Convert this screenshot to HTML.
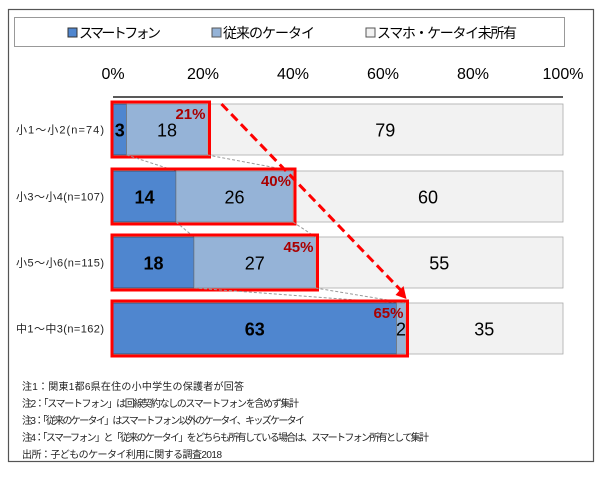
<!DOCTYPE html>
<html><head><meta charset="utf-8"><style>
body{margin:0;width:600px;height:472px;background:#fff;font-family:"Liberation Sans","Noto Sans CJK JP",sans-serif;overflow:hidden}
svg text{font-family:"Liberation Sans","Noto Sans CJK JP",sans-serif}
</style></head><body>
<svg width="600" height="472">
<rect x="8.5" y="9.5" width="585" height="452" fill="#fff" stroke="#555" stroke-width="1.2"/>
<g>
<rect x="14.5" y="17.5" width="550" height="29" fill="#fff" stroke="#999"/>
<rect x="68" y="28" width="9" height="9" fill="#4f86cf" stroke="#333"/>
<text x="79" y="38" font-size="14" textLength="82">スマートフォン</text>
<rect x="212" y="28" width="9" height="9" fill="#95b3d7" stroke="#555"/>
<text x="223" y="38" font-size="14" textLength="92">従来のケータイ</text>
<rect x="366" y="28" width="9" height="9" fill="#f2f2f2" stroke="#555"/>
<text x="377" y="38" font-size="14" textLength="140">スマホ・ケータイ未所有</text>
</g>
<g id="axis"></g>
<g id="bars"></g>
<g font-size="10" fill="#222">
<text x="22" y="390" textLength="222">注1：関東1都6県在住の小中学生の保護者が回答</text>
<text x="22" y="407" textLength="277">注2：「スマートフォン」は回線契約なしのスマートフォンを含めず集計</text>
<text x="22" y="424" textLength="283">注3：「従来のケータイ」はスマートフォン以外のケータイ、キッズケータイ</text>
<text x="22" y="441" textLength="407">注4：「スマーフォン」と「従来のケータイ」をどちらも所有している場合は、スマートフォン所有として集計</text>
<text x="22" y="458" textLength="200">出所：子どものケータイ利用に関する調査2018</text>
</g>
</svg>
<script>
const categories=["小1～小2(n=74)","小3～小4(n=107)","小5～小6(n=115)","中1～中3(n=162)"];
const smart=[3,14,18,63];
const feature=[18,26,27,2];
const none=[79,60,55,35];
const totals=["21%","40%","45%","65%"];
const ticks=[0,20,40,60,80,100];
const NS="http://www.w3.org/2000/svg";
const x0=113,x1=563;
const xs=v=>x0+(x1-x0)*v/100;
const rowTop=[104,171,237,303],bh=51;
function mk(t,a,p){const e=document.createElementNS(NS,t);for(const k in a)e.setAttribute(k,a[k]);p.appendChild(e);return e;}
const ax=document.getElementById('axis'),g=document.getElementById('bars');
ticks.forEach(t=>{const e=mk('text',{x:xs(t),y:79,'font-size':16,'text-anchor':'middle'},ax);e.textContent=t+'%';

});
mk('line',{x1:x0,x2:x1,y1:97,y2:97,stroke:'#222','stroke-width':1.5},ax);
categories.forEach((c,i)=>{
 const y=rowTop[i];const a=smart[i],b=feature[i],n=none[i];
 const r1=mk('rect',{x:xs(0),y:y,width:xs(a)-xs(0),height:bh,fill:'#4f86cf',stroke:'#333','stroke-width':0.6},g);
 
 
 const r2=mk('rect',{x:xs(a),y:y,width:xs(a+b)-xs(a),height:bh,fill:'#95b3d7',stroke:'#777','stroke-width':0.6},g);
 
 
 const r3=mk('rect',{x:xs(a+b),y:y,width:xs(a+b+n)-xs(a+b),height:bh,fill:'#f2f2f2',stroke:'#aaa','stroke-width':0.8},g);
 
 
 const lab=mk('text',{x:16,y:y+bh/2+4,'font-size':11,fill:'#222',textLength:88},g);lab.textContent=c;
 
 
 const cy=y+bh/2+7;
 const t1=mk('text',{x:(xs(0)+xs(a))/2,y:cy,'font-size':18,'font-weight':'bold','text-anchor':'middle'},g);t1.textContent=a;
 
 
 const t2=mk('text',{x:(xs(a)+xs(a+b))/2,y:cy,'font-size':18,'text-anchor':'middle'},g);t2.textContent=b;
 
 
 const t3=mk('text',{x:(xs(a+b)+xs(100))/2,y:cy,'font-size':18,'text-anchor':'middle'},g);t3.textContent=n;
 
 
 const rb=mk('rect',{x:xs(0)-1,y:y-2,width:xs(a+b)-xs(0)+3,height:bh+4,fill:'none',stroke:'#f00','stroke-width':3},g);
 
 
 const tt=mk('text',{x:xs(a+b)-2,y:y+15,'font-size':15,'font-weight':'bold',fill:'#a00','text-anchor':'end'},g);tt.textContent=totals[i];
 
 
 if(i<3){const yb=y+bh,yn=rowTop[i+1];
  mk('line',{x1:xs(a),y1:yb,x2:xs(smart[i+1]),y2:yn,stroke:'#999','stroke-dasharray':'3,2'},g);
  mk('line',{x1:xs(a+b),y1:yb,x2:xs(smart[i+1]+feature[i+1]),y2:yn,stroke:'#999','stroke-dasharray':'3,2'},g);}
});
const ar=mk('line',{x1:xs(smart[0]+feature[0])+14,y1:rowTop[0],x2:xs(smart[3]+feature[3])-2,y2:rowTop[3]-10,stroke:'#f00','stroke-width':3,'stroke-dasharray':'9,5'},g);


const hx=xs(smart[3]+feature[3])+1,hy=rowTop[3]-4;
const hd=mk('polygon',{points:`${hx},${hy} ${hx-11},${hy-4} ${hx-3},${hy-13}`,fill:'#f00'},g);


</script>
</body></html>
